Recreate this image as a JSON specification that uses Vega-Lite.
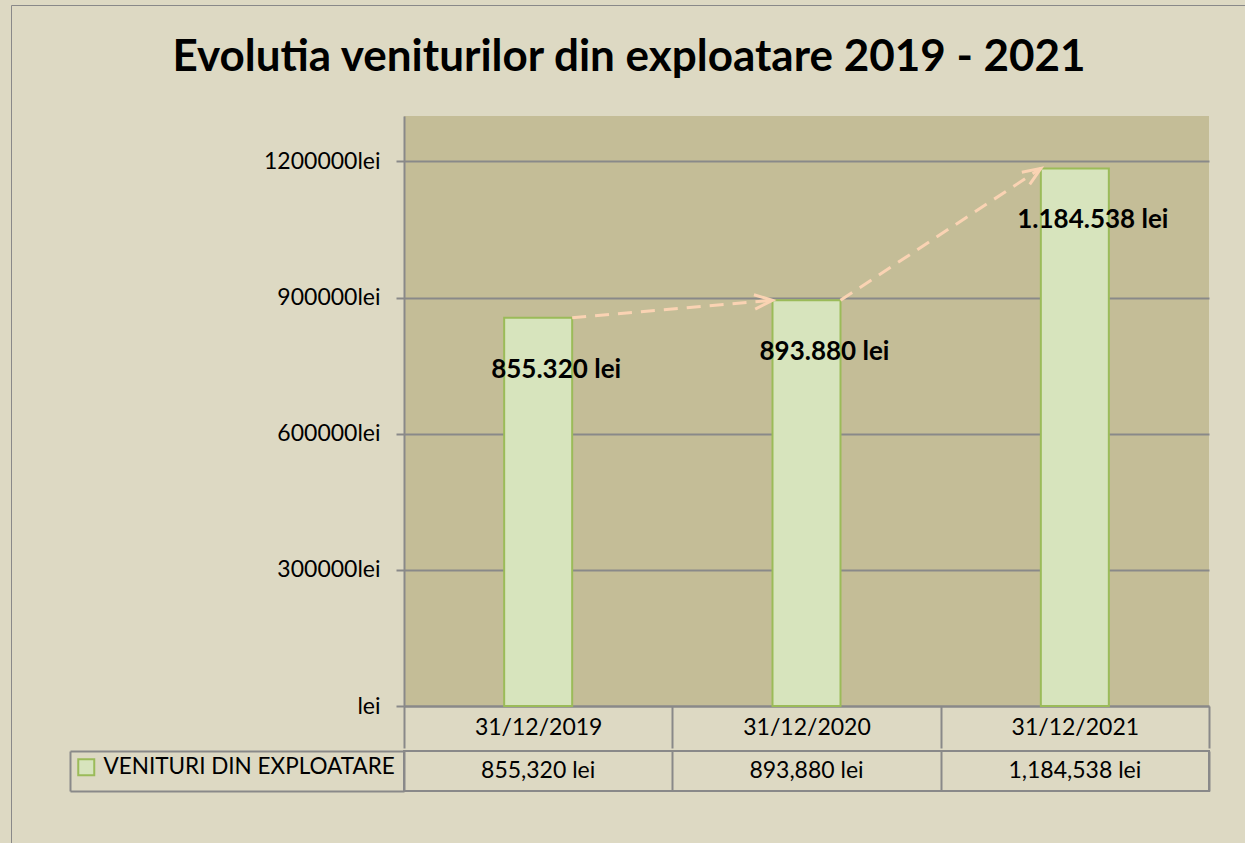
{
  "$schema": "https://vega.github.io/schema/vega-lite/v6.json",
  "background": "#DDD9C3",
  "padding": {"left": 10, "top": 4, "right": 0, "bottom": 0},
  "datasets": {
    "venituri": [
      {"date": "31/12/2019", "value": 855320, "label": "855.320 lei", "tableText": "855,320 lei", "series": "VENITURI DIN EXPLOATARE"},
      {"date": "31/12/2020", "value": 893880, "label": "893.880 lei", "tableText": "893,880 lei", "series": "VENITURI DIN EXPLOATARE"},
      {"date": "31/12/2021", "value": 1184538, "label": "1.184.538 lei", "tableText": "1,184,538 lei", "series": "VENITURI DIN EXPLOATARE"}
    ]
  },
  "spacing": 0,
  "vconcat": [
    {
      "width": 805,
      "height": 590,
      "title": {
        "text": "Evolutia veniturilor din exploatare 2019 - 2021",
        "font": "Lato", "fontSize": 44, "fontWeight": "bold", "color": "#000000",
        "anchor": "middle", "frame": "group", "offset": 36, "dx": -177.5
      },
      "view": {"fill": "#C4BD97", "stroke": null},
      "data": {"name": "venituri"},
      "encoding": {
        "x": {
          "field": "date", "type": "ordinal", "title": null,
          "scale": {"paddingInner": 0, "paddingOuter": 0},
          "axis": {
            "orient": "bottom", "labelAngle": 0, "labelFont": "Lato", "labelFontSize": 23, "labelColor": "#000000",
            "labelBaseline": "middle", "labelPadding": -21,
            "tickBand": "extent", "tickSize": 42, "tickColor": "#898989", "tickWidth": 2,
            "domainColor": "#898989", "domainWidth": 2, "grid": false
          }
        },
        "y": {
          "field": "value", "type": "quantitative", "title": null,
          "scale": {"domain": [0, 1300000], "nice": false, "zero": true},
          "axis": {
            "values": [0, 300000, 600000, 900000, 1200000],
            "labelExpr": "(datum.value == 0 ? '' : format(datum.value, 'd')) + 'lei'",
            "labelFont": "Lato", "labelFontSize": 23, "labelColor": "#000000", "labelPadding": 16,
            "tickSize": 8, "tickColor": "#898989", "tickWidth": 2,
            "domainColor": "#898989", "domainWidth": 2,
            "grid": true, "gridColor": "#898989", "gridWidth": 2
          }
        }
      },
      "layer": [
        {
          "mark": {"type": "bar", "size": 68, "stroke": "#9BBB59", "strokeWidth": 2},
          "encoding": {
            "color": {
              "field": "series", "type": "nominal",
              "scale": {"range": ["#D7E4BD"]},
              "legend": {
                "orient": "none", "legendX": -329, "legendY": 640, "title": null,
                "symbolType": "square", "symbolSize": 256, "symbolStrokeColor": "#9BBB59", "symbolStrokeWidth": 2,
                "symbolOpacity": 1,
                "labelFont": "Lato", "labelFontSize": 22.5, "labelColor": "#000000", "labelOffset": 6,
                "padding": 0, "labelLimit": 0
              }
            }
          }
        },
        {
          "mark": {"type": "rule", "opacity": 0, "strokeOpacity": 0},
          "encoding": {
            "stroke": {
              "field": "value", "type": "quantitative",
              "scale": {"range": ["#898989", "#898989"]},
              "legend": {
                "orient": "none", "legendX": -393, "legendY": -111, "direction": "vertical", "title": null,
                "gradientLength": 900, "gradientThickness": 1300, "gradientOpacity": 0, "gradientStrokeWidth": 0,
                "labelExpr": "''", "labelOpacity": 0, "labelOffset": 0, "labelFontSize": 1,
                "padding": 0, "strokeColor": "#898989"
              }
            }
          }
        },
        {
          "transform": [
            {"window": [{"op": "lead", "field": "date", "as": "next_date"}, {"op": "lead", "field": "value", "as": "next_value"}]},
            {"filter": "datum.next_date != null"}
          ],
          "mark": {"type": "rule", "color": "#FAD3B3", "strokeWidth": 3, "strokeDash": [14, 9], "xOffset": 34, "x2Offset": -34},
          "encoding": {
            "x2": {"field": "next_date"},
            "y2": {"field": "next_value"}
          }
        },
        {
          "transform": [
            {"window": [{"op": "lead", "field": "date", "as": "next_date"}, {"op": "lead", "field": "value", "as": "next_value"}]},
            {"filter": "datum.date == '31/12/2019'"}
          ],
          "mark": {"type": "point", "shape": "M-1,-0.4L0,0L-1,0.4", "filled": false, "stroke": "#FAD3B3", "strokeWidth": 3, "size": 1296, "opacity": 1, "angle": -5, "xOffset": -34},
          "encoding": {
            "x": {"field": "next_date", "type": "ordinal"},
            "y": {"field": "next_value", "type": "quantitative"}
          }
        },
        {
          "transform": [
            {"window": [{"op": "lead", "field": "date", "as": "next_date"}, {"op": "lead", "field": "value", "as": "next_value"}]},
            {"filter": "datum.date == '31/12/2020'"}
          ],
          "mark": {"type": "point", "shape": "M-1,-0.4L0,0L-1,0.4", "filled": false, "stroke": "#FAD3B3", "strokeWidth": 3, "size": 1296, "opacity": 1, "angle": -33.3, "xOffset": -34},
          "encoding": {
            "x": {"field": "next_date", "type": "ordinal"},
            "y": {"field": "next_value", "type": "quantitative"}
          }
        },
        {
          "mark": {"type": "text", "font": "Lato", "fontSize": 26, "fontWeight": "bold", "color": "#000000", "align": "center", "baseline": "alphabetic", "dx": 18, "dy": 60},
          "encoding": {"text": {"field": "label"}}
        }
      ]
    },
    {
      "width": 805,
      "height": 40,
      "view": {"stroke": "#898989", "strokeWidth": 2, "fill": null},
      "data": {"name": "venituri"},
      "mark": {"type": "text", "font": "Lato", "fontSize": 23, "color": "#000000", "align": "center", "baseline": "middle"},
      "encoding": {
        "x": {
          "field": "date", "type": "ordinal", "title": null,
          "scale": {"paddingInner": 0, "paddingOuter": 0},
          "axis": {"orient": "top", "labels": false, "ticks": false, "domain": false, "grid": true, "tickBand": "extent", "gridColor": "#898989", "gridWidth": 2}
        },
        "y": {
          "field": "series", "type": "nominal", "title": null,
          "scale": {"paddingInner": 0, "paddingOuter": 0},
          "axis": {"orient": "left", "offset": 334, "labels": false, "ticks": true, "tickBand": "extent", "tickSize": -334, "tickColor": "#898989", "tickWidth": 2, "domain": true, "domainColor": "#898989", "domainWidth": 2, "grid": false}
        },
        "text": {"field": "tableText"}
      }
    }
  ]
}
